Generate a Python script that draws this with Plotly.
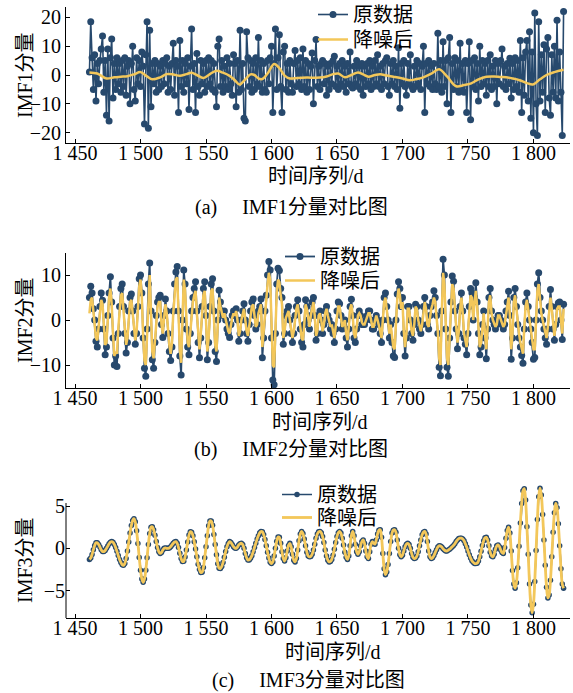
import plotly.graph_objects as go

# ---------------- data ----------------
START_DAY = 1461
x_tick_vals = [1450, 1500, 1550, 1600, 1650, 1700, 1750, 1800]
x_tick_text = ["1 450", "1 500", "1 550", "1 600", "1 650", "1 700", "1 750", "1 800"]

imf1_raw = [
    1, 18.5, 6, -5, 7, -9, 4, -3, 5, 9,
    13.5, -6, 5, -14, 9, -16, 6, 12.5, -8, 4,
    -5, 6, -3, 4, -6, 5, -4, 6, -7, 3,
    5, -10, 4, 10, -5, -9, 6, -3, 5, -4,
    8, 3, -17, 7, 18.5, -18.5, 15.5, -11, 4, -3,
    5, -6, 4, -5, 3, -4, 5, -3, 4, 6,
    -6, 3, -5, 4, 11, -7, 5, 3, -13, 12,
    -4, 5, -6, 4, -3, 6, -12, 3, 16, -5,
    4, -13, 7.5, -4, -7, 5, -3, 4, -6, 5,
    -4, 6, -3, 5, -5, 4, -6, -11, 10, 12.5,
    -4, 5, -6, 3, -4, 6, -5, 4, -3, -7,
    7, 4, -11, 5, -6, 15.5, -5, 4, -15, -16,
    15, 6, -4, 5, -6, 4, -5, 6, -3, 13,
    -4, 5, -6, 4, -5, -6, 5, -3, 6, 10,
    -13, 4, 16, -5, 6, 14, -4, -13, 8, 10,
    -5, 4, -6, 5, -3, -6, 4, 8.5, -4, 5,
    -3, 6, -5, 9, -4, 5, -6, 4, -5, 3,
    7.6, -10, 5, 12.3, -4, 3, -5, 4, 5, -3,
    4, -7, 3, -5, 4, -3, 5, 6.5, -4, 3,
    -5, 4, -3, 5, -4, 3, -6, 4, -3, 8,
    -4, -4.5, 3, -3, 5, -4, 3, -5, 4, -7,
    3, -4, 4, -3, 5, -5, 3, -4, 5, -3,
    7, -4, 3, -5, 4, -3, 5, 6, -4, -7,
    4, -3, 5, -4, 3, -5, 9.5, -11.5, 4, -3,
    5, -4, -7, 4, -3, 7, -4, -5, 3, -4,
    5, -3, 4, -5, 3, 10, -13, 4, -3, 5,
    -4, 3, -5, 4, -3, -5, 14.5, -4, 5, -6,
    11.5, -4, 5, -10, 6, 13, -13, 4, -5, 6,
    -4, 5, -6, 11, -5, 4, -6, 5, -13, 4,
    11.5, -15.5, 5, -4, 6, -5, 4, -9, 10, -4,
    5, -3, 4, -7, 5, -4, 7, -5, 3, -4,
    5, -10, 4, -3, 5, 9, -4, 3, -5, 4,
    -3, 5.8, -8, 4, -5, 6, -4, 5, -6, 12,
    -13, 6, -7, 8, 12, -9, 15, -15, 8, -20,
    21.5, -10, -21, 18.5, -9, 7, -6, 10.5, -13, 9,
    13, -8, -14, 7, -6, 10, -8, 19, -9, 8,
    -6, -21, 22,
]

imf1_denoised_days = [
    1461, 1467, 1474, 1480, 1485, 1490, 1495, 1500, 1505, 1509, 1515, 1520,
    1525, 1530, 1535, 1539, 1543, 1548, 1553, 1558, 1563, 1568, 1572, 1575.5,
    1580, 1584, 1587, 1590, 1593, 1597, 1602, 1606, 1610, 1614, 1620, 1627,
    1637, 1642, 1647, 1651, 1656, 1661, 1666, 1670, 1674, 1679, 1683, 1688,
    1693, 1700, 1705.5, 1710, 1716, 1722, 1728, 1734, 1741, 1747, 1752.5,
    1758, 1764, 1770, 1775, 1779, 1784, 1789.4, 1795, 1799.6, 1805, 1810,
    1816, 1823,
]
imf1_denoised = [
    0.9, 0.5, -1.2, -0.8, -0.6, -0.4, 0.2, 1.0, -0.5, -1.5, -0.8, 0.3,
    0.2, -0.3, 0.3, 0.8, 0.0, -1.0, 0.3, 1.5, 0.8, -0.3, -1.8, -3.3,
    -1.5, 0.2, 0.0, -1.2, -1.4, 0.5, 3.8, 2.4, -0.2, -1.2, -1.0, -0.9,
    -0.9, -0.5, 0.3, 0.5, -0.8, 0.0, 0.9, 0.2, -0.6, 0.0, 0.3, -0.2,
    -0.6, -1.2, -1.8, -1.5, -0.8, 0.5, 2.0, -0.5, -3.9, -3.5, -2.9,
    -1.5, -0.6, -0.5, -0.7, -0.8, -1.2, -1.8, -2.8, -3.3, -1.5, 0.0,
    1.0, 1.8,
]

imf2_raw = [
    5, 7.5, 6, 2.5, 0, -4.7, -6, -2, 3, 6,
    4.4, -2, -7.7, -6, 1, 6, 9.6, 4, -4, -10,
    -8, -10.3, -3, 3, 7, 8, 3, -3, -7.3, -5,
    2, 5, 5.8, 2, -3, -5.4, -3, 3, 9.2, 10,
    6, -4, -10.7, -12.5, -2, 8, 12.7, 2, -8.8, -10.7,
    -5, 1, 4, 5, 5.5, -1, -3.9, 1, 4.7, 2,
    -3, -7, -9, -6, 2, 8, 10.7, 11.9, 2, -8,
    -12.2, 0, 11.1, 8, -2, -6, -7.7, -3, 2, 5,
    7, 8.5, 2, -5, -8.4, -4, 3, 7, 8.5, 1,
    -8.8, -5, 3, 8, 9.2, 2, -7, -9.2, 0, 6.6,
    4, 2, 1, 2, 0, -2, -3, -3.9, -1, 1,
    2, 1, 2.5, 0, -4.7, -3, 0, 2, 3.6, 0,
    -3, -4.7, -1, 2, 4, 4.7, 1, -2, -1, 2,
    3, 4.7, -8.4, -4, 2, 5.5, 10, 13, 11.1, -4,
    -13.3, -14.4, -3, 8, 11.5, 11, 7, 5, -5.4, -3,
    1, 2, 3, 0, -3, -5, -3, 1, 3, 4.5,
    2, -2, -5, -6, -1, 4.5, 3, 0, -2, 1,
    4, 5, 1, -4.5, -3, 1, 2, 0, -3, -1,
    2, 3, 1, 0, -2, -1, -3, -5, -2, 2,
    4, 3.6, 1, -2, -1, 0, -4, -6, -2, 3,
    4.6, 1, -4, -5, -2, 1, 2, 1, -1, -1,
    -1, 0, 1, 2, 2, 0, -2, -2, 0, 1,
    0, -1, -3, -5, 0, 5, 6, 3, 0, -4,
    -1, -5, -8, -8.3, 0, 5.8, 8.5, 7, 3, 5,
    -3, -8, -4, 3, 3, 0, -3, -4.5, -1, 3.5,
    3, 0, -2, -3, -1, 3, 5, 3, -1, -2,
    1, 3, 4, 6.5, 5, 1, -3, -10.5, -12.4, 2,
    13.5, 10, -2, -10.5, -12.5, -4, 4, 9.8, 8.6, 2,
    -2, -6.4, -3, 3, 6, 2, -4, -5.4, -7.7, -3,
    3, 7, 6, 0, 5, 8.3, 4, -3, -7.7, -6,
    -1, 2, -4, -8.6, -2, 5, 7, 2, 0, -1,
    -2, -1, 1, 1, 0, -1, -2, -1, 2, 4,
    6.4, 1, -8.7, -4, 5, 7, 3, -1, -4, -6,
    -7.9, -9.6, -2, 4, 6, 3, 0, -2, -5, -8.7,
    -8.3, 0, 8, 10.5, 5, 2, 0, -2, -4, -5.4,
    -2, 3, 6.8, 3, -2, -4.5, -1, 3, 3.8, 4,
    0, -4.3, 3.5,
]

imf2_denoised = [
    1.5, 4.5, 5, 2.5, -1, -4, -4.5, -1.5, 2.5, 4.5,
    3.5, -1.5, -5.5, -5, 0.5, 5, 7, 3.5, -3, -8,
    -7, -7.5, -2, 2.5, 5.5, 6, 2.5, -2.5, -5.5, -4,
    1, 4, 4.5, 1.5, -2.5, -4.5, -2.5, 2.5, 7.5, 9,
    5, -3.5, -9, -10, -2, 6.5, 10, 1.5, -7, -8.5,
    -4, 0.5, 3, 4, 4, -1, -3, 0.5, 3.5, 1.5,
    -2.5, -5.5, -7.5, -5, 1.5, 6.5, 9, 9.5, 1.5, -6.5,
    -9.5, 0, 9, 6.5, -1.5, -5, -6, -2.5, 1.5, 4,
    5.5, 6.5, 1.5, -4, -6.5, -3, 2.5, 5.5, 6.5, 1,
    -7, -4, 2.5, 6.5, 7, 1.5, -5.5, -7, 0, 5,
    3, 1.5, 0.5, 1.5, 0, -1.5, -2.5, -3, -1, 0.5,
    1.5, 1, 2, 0, -3.5, -2.5, 0, 1.5, 2.5, 0,
    -2.5, -3.5, -1, 1.5, 3, 3.5, 1, -1.5, -1, 1.5,
    2.5, 3.5, -6, -3, 1.5, 4.5, 8, 10.5, 9, -3,
    -10, -10.5, -2.5, 6, 9, 8.5, 5.5, 3.5, -4, -2.5,
    0.5, 1.5, 2, 0, -2.5, -4, -2.5, 0.5, 2.5, 3.5,
    1.5, -1.5, -4, -4.5, -1, 3.5, 2.5, 0, -1.5, 1,
    3, 4, 1, -3.5, -2.5, 1, 1.5, 0, -2.5, -1,
    1.5, 2.5, 1, 0, -1.5, -1, -2.5, -4, -1.5, 1.5,
    3, 3, 1, -1.5, -1, 0, -3, -4.5, -1.5, 2.5,
    3.5, 1, -3, -4, -1.5, 1, 1.5, 1, -0.5, -1,
    -1, 0, 1, 1.5, 1.5, 0, -1.5, -1.5, 0, 1,
    0, -1, -2.5, -4, 0, 4, 5, 2.5, 0, -3,
    -1, -4, -6, -6.5, 0, 4.5, 7, 5.5, 2.5, 4,
    -2.5, -6, -3, 2.5, 2.5, 0, -2.5, -3.5, -1, 3,
    2.5, 0, -1.5, -2.5, -1, 2.5, 4, 2.5, -1, -1.5,
    1, 2.5, 3.5, 5, 4, 1, -2.5, -8.5, -10, 1.5,
    10.5, 8, -1.5, -8.5, -10, -3, 3, 8, 7, 1.5,
    -1.5, -5, -2.5, 2.5, 5, 1.5, -3, -4.5, -6, -2.5,
    2.5, 5.5, 5, 0, 4, 6.5, 3, -2.5, -6, -5,
    -1, 1.5, -3, -6.5, -1.5, 4, 5.5, 1.5, 0, -1,
    -1.5, -1, 1, 1, 0, -1, -1.5, -1, 1.5, 3,
    5, 1, -6.5, -3, 4, 5.5, 2.5, -1, -3, -5,
    -6.5, -7.5, -1.5, 3, 4.5, 2.5, 0, -1.5, -4, -6.5,
    -6.5, 0, 6.5, 8, 4, 1.5, 0, -1.5, -3, -4,
    -1.5, 2.5, 5, 2.5, -1.5, -3.5, -1, 2.5, 3, 3,
    0, -3, 2.5,
]

imf3_raw = [
    -1.3, -1.14, -0.72, -0.16, 0.35, 0.66, 0.67, 0.47, 0.15, -0.17,
    -0.38, -0.38, -0.25, 0.0, 0.27, 0.54, 0.73, 0.8, 0.72, 0.47,
    0.1, -0.35, -0.85, -1.3, -1.66, -1.92, -2.0, -1.79, -1.2, -0.3,
    0.75, 1.8, 2.7, 3.3, 3.5, 3.13, 2.07, 0.57, -1.07, -2.57,
    -3.63, -4.0, -3.62, -2.57, -1.1, 0.47, 1.76, 2.5, 2.55, 2.2,
    1.55, 0.8, 0.1, -0.4, -0.6, -0.5, -0.2, 0.0, 0.05, 0.0,
    0.0, 0.05, 0.2, 0.4, 0.6, 0.75, 0.8, 0.6, 0.1, -0.57,
    -1.2, -1.55, -1.53, -1.02, -0.2, 0.75, 1.57, 1.97, 1.91, 1.5,
    0.77, -0.07, -0.99, -1.87, -2.5, -2.85, -2.82, -2.27, -1.1, 0.2,
    1.5, 2.68, 3.24, 3.23, 2.73, 1.65, 0.45, -0.75, -1.83, -2.34,
    -2.37, -2.13, -1.66, -1.06, -0.38, 0.19, 0.58, 0.8, 0.7, 0.45,
    0.2, 0.05, 0.0, 0.15, 0.4, 0.55, 0.6, 0.45, 0.0, -0.6,
    -1.1, -1.38, -1.36, -1.16, -0.86, -0.41, 0.1, 0.6, 1.1, 1.5,
    1.83, 1.98, 1.96, 1.64, 1.05, 0.3, -0.47, -1.15, -1.65, -1.8,
    -1.6, -0.9, 0.0, 0.85, 1.35, 1.3, 0.6, -0.4, -1.2, -1.5,
    -1.1, -0.3, 0.35, 0.6, 0.2, -0.7, -1.4, -1.6, -1.2, -0.2,
    0.9, 1.7, 2.0, 1.75, 1.1, 0.3, -0.45, -0.9, -1.0, -0.95,
    -0.7, -0.2, 0.5, 1.2, 1.7, 1.95, 2.0, 1.85, 1.4, 0.7,
    -0.2, -0.9, -1.4, -1.6, -1.55, -1.3, -0.8, -0.1, 0.7, 1.4,
    1.85, 2.0, 1.8, 1.2, 0.4, -0.45, -1.05, -1.3, -0.9, 0.3,
    1.5, 2.0, 1.5, 0.5, -0.4, -0.7, -0.4, 0.3, 0.8, 1.0,
    0.6, -0.3, -1.0, -1.2, -0.4, 0.5, 0.8, 0.6, 0.5, 1.0,
    1.7, 2.15, 2.2, 1.3, -0.6, -2.4, -3.1, -2.8, -1.9, -0.6,
    0.8, 1.8, 2.15, 2.2, 1.9, 1.0, 0.0, -0.75, -1.0, -0.8,
    -0.3, 0.2, 0.5, 0.6, 0.45, 0.0, -0.6, -1.05, -1.2, -1.15,
    -0.9, -0.4, 0.3, 1.0, 1.6, 1.9, 2.0, 1.7, 0.8, -0.3,
    -1.0, -1.2, -1.1, -0.85, -0.5, -0.15, 0.15, 0.3, 0.28, 0.15,
    -0.05, -0.2, -0.3, -0.3, -0.2, -0.1, 0.05, 0.2, 0.35, 0.55,
    0.8, 1.0, 1.15, 1.2, 1.2, 1.1, 0.9, 0.55, 0.15, -0.3,
    -0.75, -1.15, -1.45, -1.65, -1.78, -1.8, -1.75, -1.5, -1.0, -0.35,
    0.35, 0.9, 1.25, 1.3, 1.0, 0.3, -0.45, -0.9, -1.0, -0.7,
    -0.1, 0.3, 0.4, 0.2, -0.2, -0.5, -0.6, 0.1, 1.2, 2.1,
    2.5, 1.8, -0.3, -2.6, -4.2, -4.7, -4.05, -2.3, 0.25, 3.0,
    5.3, 6.8, 7.05, 5.7, 2.55, -0.7, -4.2, -6.7, -7.6, -6.6,
    -3.9, -0.25, 3.4, 6.1, 7.1, 6.3, 4.0, 1.0, -2.0, -4.6,
    -5.85, -5.5, -3.75, -1.0, 1.9, 4.2, 5.3, 4.8, 2.9, 0.3,
    -2.4, -4.2, -4.7,
]
imf3_denoised = imf3_raw  # visually identical to the raw IMF3 in the figure

y_titles = ["IMF1分量", "IMF2分量", "IMF3分量"]
captions = ["(a)\u00a0\u2003IMF1分量对比图", "(b)\u00a0\u2003IMF2分量对比图", "(c)\u00a0\u2003IMF3分量对比图"]
x_title = "时间序列/d"
legend_names = ["原数据", "降噪后"]

# ---------------- styling ----------------
W, H = 573, 693
BLUE = "#27496D"
YELLOW = "#F3C75A"
FONT = "Liberation Serif, 'Times New Roman', 'Noto Sans CJK SC', serif"
FS = 20


def days_for(vals):
    return list(range(START_DAY, START_DAY + len(vals)))


def py(px):
    return 1 - px / H


def pxx(px):
    return px / W


fig = go.Figure()

# panel (a)
fig.add_trace(go.Scatter(x=days_for(imf1_raw), y=imf1_raw, mode="lines+markers",
                         name=legend_names[0], line=dict(color=BLUE, width=1.6),
                         marker=dict(color=BLUE, size=7), xaxis="x", yaxis="y",
                         legend="legend"))
fig.add_trace(go.Scatter(x=imf1_denoised_days, y=imf1_denoised, mode="lines",
                         name=legend_names[1], line=dict(color=YELLOW, width=2.5, shape="spline"),
                         xaxis="x", yaxis="y", legend="legend2"))
# panel (b)
fig.add_trace(go.Scatter(x=days_for(imf2_raw), y=imf2_raw, mode="lines+markers",
                         name=legend_names[0], line=dict(color=BLUE, width=1.8),
                         marker=dict(color=BLUE, size=7), xaxis="x2", yaxis="y2",
                         legend="legend3"))
fig.add_trace(go.Scatter(x=days_for(imf2_denoised), y=imf2_denoised, mode="lines",
                         name=legend_names[1], line=dict(color=YELLOW, width=2.5),
                         xaxis="x2", yaxis="y2", legend="legend4"))
# panel (c)
fig.add_trace(go.Scatter(x=days_for(imf3_raw), y=imf3_raw, mode="lines+markers",
                         name=legend_names[0], line=dict(color=BLUE, width=1.5),
                         marker=dict(color=BLUE, size=5.5), xaxis="x3", yaxis="y3",
                         legend="legend5"))
fig.add_trace(go.Scatter(x=days_for(imf3_denoised), y=imf3_denoised, mode="lines",
                         name=legend_names[1], line=dict(color=YELLOW, width=2.8, shape="spline"),
                         xaxis="x3", yaxis="y3", legend="legend6"))

x_dom = [pxx(66), pxx(570)]
x_range = [1443.1, 1827.9]

common_x = dict(domain=x_dom, range=x_range, tickmode="array", tickvals=x_tick_vals,
                ticktext=x_tick_text, ticks="inside", ticklen=4, tickwidth=1,
                tickcolor="black", showline=True, linecolor="black", linewidth=1,
                showgrid=False, zeroline=False, automargin=False,
                ticklabelstandoff=-8,
                tickfont=dict(family=FONT, size=FS, color="black"))
common_y = dict(ticks="inside", ticklen=4, tickwidth=1, tickcolor="black",
                showline=True, linecolor="black", linewidth=1, showgrid=False,
                zeroline=False, automargin=False,
                tickfont=dict(family=FONT, size=FS, color="black"),
                ticklabelstandoff=0)

legend_common = dict(font=dict(family=FONT, size=FS, color="black"),
                     bgcolor="rgba(0,0,0,0)", borderwidth=0, xanchor="left",
                     yanchor="top", itemwidth=30)

# one legend entry per legend box so the two rows sit as close as in the reference
legend_boxes = [(313, -5), (313, 20), (280, 237), (280, 261), (277, 475), (277, 498)]
legend_layout = {}
for i, (lx, ly) in enumerate(legend_boxes):
    key = "legend" if i == 0 else f"legend{i + 1}"
    legend_layout[key] = dict(legend_common, x=pxx(lx), y=py(ly))

fig.update_layout(
    width=W, height=H, margin=dict(l=0, r=0, t=0, b=0, autoexpand=False),
    paper_bgcolor="white", plot_bgcolor="white", showlegend=True,
    xaxis=dict(common_x, anchor="y"),
    xaxis2=dict(common_x, anchor="y2"),
    xaxis3=dict(common_x, anchor="y3"),
    yaxis=dict(common_y, domain=[py(143), py(7)], range=[-23.6, 23.6],
               tickvals=[-20, -10, 0, 10, 20], anchor="x"),
    yaxis2=dict(common_y, domain=[py(388), py(253)], range=[-15.1, 14.9],
                tickvals=[-10, 0, 10], anchor="x2"),
    yaxis3=dict(common_y, domain=[py(618), py(480)], range=[-8.22, 8.07],
                tickvals=[-5, 0, 5], anchor="x3", showline=False),
    **legend_layout,
)

# partial left spine of panel (c)
fig.add_shape(type="line", xref="x3 domain", yref="y3", x0=0, x1=0, y0=-8.22, y1=5.35,
              line=dict(color="black", width=1))

ann_font = dict(family=FONT, size=FS, color="black")
y_title_pos = [75, 320, 560]
x_title_pos = [(316, 176), (320, 422), (333, 652)]
caption_pos = [(291, 207), (291, 449), (308, 680)]
for i in range(3):
    fig.add_annotation(text=y_titles[i], x=pxx(25), y=py(y_title_pos[i]), xref="paper",
                       yref="paper", textangle=-90, showarrow=False, font=ann_font,
                       xanchor="center", yanchor="middle")
    fig.add_annotation(text=x_title, x=pxx(x_title_pos[i][0]), y=py(x_title_pos[i][1]),
                       xref="paper", yref="paper", showarrow=False, font=ann_font,
                       xanchor="center", yanchor="middle")
    fig.add_annotation(text=captions[i], x=pxx(caption_pos[i][0]), y=py(caption_pos[i][1]),
                       xref="paper", yref="paper", showarrow=False, font=ann_font,
                       xanchor="center", yanchor="middle")

# remove the browser's default 8px page margin so the figure sits at the window origin
fig.write_html("out.html", config={"displayModeBar": False},
               post_script="document.body.style.margin='0px';")
